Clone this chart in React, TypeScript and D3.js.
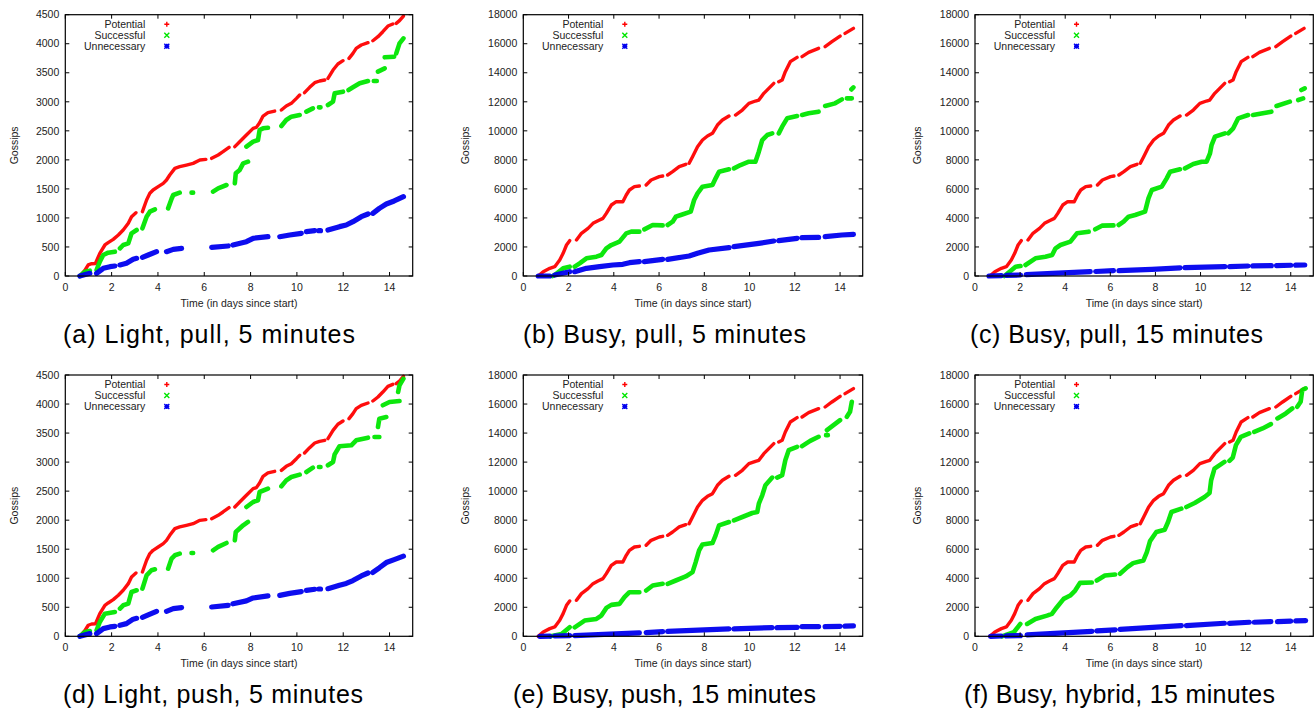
import React from "react";
import * as d3 from "d3";

type P = [number, number] | null;

const xTicks = [0, 2, 4, 6, 8, 10, 12, 14];
const lightYTicks = [0, 500, 1000, 1500, 2000, 2500, 3000, 3500, 4000, 4500];
const busyYTicks = [0, 2000, 4000, 6000, 8000, 10000, 12000, 14000, 16000, 18000];
const seriesNames = ["Potential", "Successful", "Unnecessary"];
const captions = [
  "(a) Light, pull, 5 minutes",
  "(b) Busy, pull, 5 minutes",
  "(c) Busy, pull, 15 minutes",
  "(d) Light, push, 5 minutes",
  "(e) Busy, push, 15 minutes",
  "(f) Busy, hybrid, 15 minutes",
];

const lightPotential: P[] = [
  [0.63, 0], [0.85, 100], [0.99, 190], [1.14, 212], [1.3, 215], [1.49, 390], [1.71, 534], [1.85, 574], [2.07, 631], [2.29, 706], [2.5, 792], [2.72, 907], [2.86, 1022], [3.05, 1090], null,
  [3.33, 1108], [3.51, 1309], [3.65, 1424], [3.79, 1481], [4.01, 1538], [4.23, 1596], [4.37, 1653], [4.51, 1739], [4.73, 1854], [4.94, 1883], [5.23, 1911], [5.52, 1940], [5.81, 1997], [6.07, 2009], null,
  [6.32, 2026], [6.6, 2084], [6.81, 2141], [7.07, 2216], null,
  [7.32, 2227], [7.53, 2313], [7.82, 2428], [8.11, 2543], [8.25, 2560], [8.39, 2640], [8.54, 2755], [8.75, 2813], [9.04, 2841], null,
  [9.33, 2858], [9.54, 2927], [9.76, 2973], [9.98, 3059], [10.12, 3117], null,
  [10.33, 3157], [10.55, 3249], [10.77, 3329], [10.98, 3358], [11.2, 3375], null,
  [11.34, 3404], [11.56, 3547], [11.77, 3651], [11.99, 3708], null,
  [12.25, 3748], [12.42, 3834], [12.56, 3920], [12.78, 3978], [13.07, 4018], null,
  [13.28, 4052], [13.5, 4121], [13.71, 4207], [13.93, 4305], [14.14, 4339], null,
  [14.29, 4351], [14.43, 4397], [14.6, 4477],
];

const aSuccessful: P[] = [
  [0.63, 0], [0.85, 75], [1.06, 92], null,
  [1.35, 103], [1.49, 247], [1.64, 362], [1.85, 402], [2.14, 419], null,
  [2.36, 476], [2.5, 534], [2.72, 562], [2.86, 735], [3.08, 792], null,
  [3.33, 821], [3.51, 1022], [3.65, 1108], [3.87, 1148], null,
  [4.44, 1165], [4.59, 1330], [4.66, 1395], [4.94, 1435], null,
  [5.45, 1435], [5.52, 1435], null,
  [6.38, 1452], [6.6, 1510], [6.96, 1567], null,
  [7.32, 1596], [7.36, 1768], [7.53, 1825], [7.68, 1940], [7.89, 1969], null,
  [7.82, 2227], [8.11, 2313], [8.32, 2342], [8.39, 2514], [8.54, 2543], [8.75, 2554], null,
  [9.33, 2583], [9.54, 2686], [9.76, 2744], [10.12, 2772], null,
  [10.41, 2830], [10.69, 2887], null,
  [10.95, 2904], [11.02, 2904], null,
  [11.34, 2945], [11.56, 3002], [11.63, 3146], [11.99, 3174], null,
  [12.23, 3203], [12.42, 3249], [12.71, 3318], [13.07, 3358], null,
  [13.32, 3358], [13.45, 3358], null,
  [13.5, 3519], [13.79, 3576], null,
  [13.79, 3766], [14.2, 3777], null,
  [14.29, 3834], [14.43, 4006], [14.6, 4093],
];

const aUnnecessary: P[] = [
  [0.63, 0], [1.06, 46], null,
  [1.35, 46], [1.64, 132], [1.93, 161], [2.14, 172], null,
  [2.36, 190], [2.64, 218], [2.93, 287], [3.08, 304], null,
  [3.33, 321], [3.58, 362], [3.94, 419], null,
  [4.37, 419], [4.66, 459], [5.02, 476], null,
  [6.32, 494], [7.03, 517], null,
  [7.24, 534], [7.82, 591], [8.11, 649], [8.75, 677], null,
  [9.26, 677], [9.69, 706], [10.19, 735], null,
  [10.41, 763], [10.77, 781], null,
  [10.95, 781], [11.02, 781], null,
  [11.34, 792], [11.84, 850], [12.13, 878], [12.42, 936], [12.78, 1022], [13.07, 1068], null,
  [13.28, 1079], [13.56, 1165], [13.86, 1240], [14.2, 1292], [14.6, 1366],
];

const dSuccessful: P[] = [
  [0.63, 0], [0.85, 75], [1.06, 92], null,
  [1.35, 103], [1.49, 247], [1.71, 390], [2.14, 419], null,
  [2.36, 476], [2.5, 534], [2.72, 562], [2.86, 764], [3.08, 792], null,
  [3.33, 821], [3.51, 1050], [3.72, 1137], [3.87, 1154], null,
  [4.44, 1165], [4.59, 1338], [4.73, 1395], [4.94, 1424], null,
  [5.45, 1435], [5.52, 1435], null,
  [6.38, 1481], [6.6, 1540], [6.96, 1607], null,
  [7.32, 1653], [7.36, 1797], [7.68, 1911], [7.89, 1969], null,
  [7.82, 2227], [8.11, 2313], [8.32, 2342], [8.39, 2485], [8.75, 2543], null,
  [9.33, 2583], [9.54, 2686], [9.76, 2744], [10.12, 2784], null,
  [10.41, 2830], [10.69, 2904], null,
  [10.95, 2916], [11.02, 2916], null,
  [11.34, 2945], [11.56, 3002], [11.63, 3134], [11.84, 3272], [12.35, 3289], [12.56, 3375], [13.07, 3421], null,
  [13.35, 3433], [13.56, 3433], null,
  [13.5, 3604], [13.56, 3748], [13.86, 3777], null,
  [13.71, 3978], [14.0, 4035], [14.43, 4052], null,
  [14.37, 4207], [14.43, 4322], [14.6, 4437],
];

const dUnnecessary: P[] = [
  [0.63, 0], [1.06, 46], null,
  [1.35, 46], [1.64, 132], [1.93, 161], [2.14, 172], null,
  [2.36, 190], [2.64, 218], [2.93, 295], [3.08, 310], null,
  [3.33, 327], [3.58, 370], [3.94, 430], null,
  [4.37, 430], [4.66, 476], [5.02, 494], null,
  [6.32, 505], [7.03, 534], null,
  [7.24, 560], [7.82, 610], [8.11, 660], [8.75, 695], null,
  [9.26, 705], [9.69, 740], [10.19, 770], null,
  [10.41, 790], [10.77, 810], null,
  [10.95, 815], [11.02, 815], null,
  [11.34, 820], [11.84, 880], [12.13, 910], [12.42, 960], [12.78, 1040], [13.07, 1090], null,
  [13.28, 1100], [13.56, 1180], [13.86, 1270], [14.2, 1320], [14.6, 1380],
];

const busyPotential: P[] = [
  [0.66, 0], [0.88, 298], [1.17, 528], [1.39, 643], [1.61, 1102], [1.76, 1561], [1.91, 2135], [2.05, 2434], null,
  [2.35, 2480], [2.57, 2939], [2.86, 3283], [3.08, 3628], [3.3, 3811], [3.52, 3972], [3.67, 4316], [3.89, 4890], [4.11, 5120], [4.4, 5120], [4.55, 5579], [4.69, 5924], [4.91, 6153], [5.13, 6199], null,
  [5.43, 6268], [5.65, 6612], [6.01, 6842], [6.16, 6888], null,
  [6.38, 6957], [6.6, 7186], [6.89, 7531], [7.18, 7692], null,
  [7.33, 7761], [7.48, 8220], [7.7, 8909], [7.92, 9368], [8.14, 9643], [8.36, 9827], [8.58, 10401], [8.8, 10745], [9.09, 11021], null,
  [9.38, 11090], [9.68, 11434], [9.97, 11893], [10.26, 12054], [10.41, 12123], [10.63, 12582], [10.85, 12927], [11.07, 13271], null,
  [11.29, 13386], [11.44, 13500], [11.58, 14074], [11.8, 14763], [12.1, 15062], null,
  [12.32, 15108], [12.61, 15406], [13.05, 15682], null,
  [13.34, 15796], [13.64, 16141], [14.0, 16531], null,
  [14.22, 16715], [14.59, 17059],
];

const bSuccessful: P[] = [
  [1.3, 0], [1.39, 69], [1.76, 528], [2.05, 643], null,
  [2.27, 643], [2.49, 872], [2.79, 1217], [3.23, 1332], [3.45, 1446], [3.67, 1906], [3.89, 2135], [4.25, 2365], [4.55, 2939], [4.77, 3054], [5.13, 3054], null,
  [5.35, 3214], [5.72, 3513], [6.16, 3490], null,
  [6.38, 3513], [6.6, 3742], [6.74, 4087], [6.96, 4202], [7.4, 4431], [7.55, 5235], [7.7, 5694], [7.92, 6153], [8.36, 6268], [8.5, 6727], [8.65, 7186], [9.09, 7347], null,
  [9.31, 7416], [9.6, 7645], [9.97, 7875], [10.26, 7875], [10.41, 8564], [10.56, 9368], [10.78, 9712], [11.0, 9827], null,
  [11.29, 9827], [11.44, 10286], [11.66, 10860], [12.1, 11021], null,
  [12.32, 11090], [12.61, 11204], [13.05, 11319], null,
  [13.34, 11710], [13.78, 11893], [14.08, 12168], null,
  [14.3, 12237], [14.52, 12237], null,
  [14.5, 12850], [14.59, 12995],
];

const bUnnecessary: P[] = [
  [0.66, 0], [1.17, 0], null,
  [1.39, 69], [2.05, 298], null,
  [2.27, 298], [2.79, 528], [3.37, 643], [3.96, 758], [4.4, 804], [4.69, 918], [5.13, 987], null,
  [5.35, 987], [6.16, 1148], null,
  [6.38, 1148], [7.33, 1378], [7.7, 1561], [8.21, 1791], [9.09, 1952], null,
  [9.31, 2020], [10.41, 2250], [11.07, 2411], null,
  [11.29, 2434], [12.1, 2594], null,
  [12.32, 2640], [13.05, 2663], null,
  [13.34, 2709], [14.08, 2824], [14.59, 2870],
];

const cSuccessful: P[] = [
  [1.3, 0], [1.36, 69], [1.8, 643], [2.02, 690], null,
  [2.24, 758], [2.68, 1217], [3.12, 1332], [3.42, 1446], [3.57, 1906], [3.79, 2135], [4.23, 2365], [4.52, 2939], [5.04, 3054], null,
  [5.33, 3214], [5.63, 3467], [6.14, 3490], null,
  [6.37, 3513], [6.59, 3742], [6.81, 4087], [7.1, 4202], [7.54, 4431], [7.69, 5350], [7.84, 5924], [8.28, 6153], [8.5, 6727], [8.65, 7186], [9.09, 7347], null,
  [9.31, 7416], [9.68, 7715], [10.05, 7875], [10.27, 7875], [10.42, 8449], [10.49, 9023], [10.64, 9597], [11.08, 9827], null,
  [11.23, 9827], [11.45, 10171], [11.67, 10860], [12.11, 11090], null,
  [12.33, 11090], [12.7, 11200], [13.14, 11319], null,
  [13.37, 11710], [13.96, 12008], null,
  [14.33, 12123], [14.55, 12237], null,
  [14.47, 12812], [14.62, 12927],
];

const cUnnecessary: P[] = [
  [0.62, 0], [1.17, 20], null,
  [1.39, 40], [2.02, 69], null,
  [2.27, 90], [4.16, 230], [5.11, 298], null,
  [5.35, 310], [6.14, 367], null,
  [6.38, 375], [7.84, 459], [9.09, 560], null,
  [9.31, 574], [11.08, 643], null,
  [11.29, 650], [12.11, 689], null,
  [12.32, 695], [13.14, 712], null,
  [13.37, 720], [14.0, 740], null,
  [14.22, 745], [14.62, 758],
];

const eSuccessful: P[] = [
  [1.2, 0], [1.32, 46], [1.69, 161], [2.05, 621], null,
  [2.27, 621], [2.71, 1082], [3.23, 1197], [3.45, 1427], [3.67, 1957], [3.89, 2164], [4.25, 2233], [4.47, 2693], [4.69, 3039], [5.13, 3039], null,
  [5.43, 3154], [5.72, 3499], [6.16, 3614], null,
  [6.38, 3614], [6.74, 3844], [7.18, 4120], [7.48, 4420], [7.62, 5110], [7.77, 5916], [7.92, 6330], [8.36, 6422], [8.5, 6952], [8.65, 7642], [9.09, 7873], null,
  [9.31, 7988], [9.68, 8218], [10.12, 8494], [10.34, 8563], [10.41, 9139], [10.56, 9714], [10.7, 10405], [11.0, 10934], null,
  [11.22, 10934], [11.44, 11096], [11.58, 12132], [11.73, 12822], [12.1, 13052], null,
  [12.32, 13098], [12.68, 13467], [13.05, 13743], null,
  [13.38, 13858], [13.46, 13858], null,
  [13.42, 14203], [13.71, 14548], [14.0, 14894], null,
  [14.3, 15124], [14.44, 15469], [14.52, 16159],
];

const eUnnecessary: P[] = [
  [0.73, 0], [1.17, 10], null,
  [1.39, 20], [2.05, 46], null,
  [2.27, 46], [5.13, 230], null,
  [5.43, 253], [6.16, 322], null,
  [6.38, 345], [9.09, 506], null,
  [9.31, 506], [11.0, 598], null,
  [11.22, 598], [12.1, 621], null,
  [12.32, 667], [13.05, 667], null,
  [13.34, 667], [14.0, 690], null,
  [14.22, 700], [14.59, 713],
];

const fSuccessful: P[] = [
  [1.2, 0], [1.28, 46], [1.72, 276], [2.01, 851], null,
  [2.31, 851], [2.68, 1197], [3.19, 1427], [3.41, 1542], [3.63, 2003], [3.93, 2578], [4.22, 2808], [4.44, 3154], [4.66, 3683], [5.18, 3706], null,
  [5.4, 3844], [5.76, 4189], [6.21, 4258], null,
  [6.43, 4304], [6.76, 4765], [7.01, 5041], [7.47, 5225], [7.62, 5800], [7.76, 6560], [8.04, 7182], [8.41, 7343], [8.56, 7873], [8.71, 8563], [9.15, 8793], null,
  [9.37, 8908], [9.74, 9185], [10.18, 9599], [10.4, 9876], [10.47, 10750], [10.62, 11556], [11.06, 12016], null,
  [11.28, 12085], [11.43, 12316], [11.57, 13167], [11.79, 13743], [12.16, 13973], null,
  [12.38, 14088], [12.75, 14318], [13.12, 14617], null,
  [13.41, 15009], [13.78, 15354], [14.07, 15699], null,
  [14.29, 15814], [14.44, 16159], [14.51, 16965], [14.66, 17080],
];

const fUnnecessary: P[] = [
  [0.69, 0], [1.17, 20], null,
  [1.39, 30], [2.01, 46], null,
  [2.31, 92], [5.18, 345], null,
  [5.4, 368], [6.21, 437], null,
  [6.43, 483], [9.15, 736], null,
  [9.37, 736], [11.06, 897], null,
  [11.28, 897], [12.16, 967], null,
  [12.38, 967], [13.12, 1013], null,
  [13.41, 1013], [14.0, 1040], null,
  [14.22, 1060], [14.66, 1082],
];

const COLORS = ["#ff0000", "#00e600", "#0000ee"];
const WIDTHS = [3.4, 4.6, 5.2];
const FONT = "'Liberation Sans', Arial, Helvetica, sans-serif";

interface PanelDef {
  caption: string;
  left: number;
  right: number;
  top: number;
  yMax: number;
  yTicks: number[];
  series: P[][];
  ylabelX: number;
  capX: number;
  capW: number;
}

const ROW_TOPS = [14.7, 375];
const PLOT_H = 261.3;

const panels: PanelDef[] = [
  { caption: captions[0], left: 65.3, right: 412.7, top: ROW_TOPS[0], yMax: 4500, yTicks: lightYTicks, series: [lightPotential, aSuccessful, aUnnecessary], ylabelX: 13.5, capX: 209, capW: 292 },
  { caption: captions[1], left: 523.3, right: 862.7, top: ROW_TOPS[0], yMax: 18000, yTicks: busyYTicks, series: [busyPotential, bSuccessful, bUnnecessary], ylabelX: 465, capX: 664.5, capW: 283 },
  { caption: captions[2], left: 975, right: 1313.3, top: ROW_TOPS[0], yMax: 18000, yTicks: busyYTicks, series: [busyPotential, cSuccessful, cUnnecessary], ylabelX: 916.7, capX: 1116.5, capW: 293 },
  { caption: captions[3], left: 65.3, right: 412.7, top: ROW_TOPS[1], yMax: 4500, yTicks: lightYTicks, series: [lightPotential, dSuccessful, dUnnecessary], ylabelX: 13.5, capX: 213, capW: 300 },
  { caption: captions[4], left: 523.3, right: 862.7, top: ROW_TOPS[1], yMax: 18000, yTicks: busyYTicks, series: [busyPotential, eSuccessful, eUnnecessary], ylabelX: 465, capX: 664.5, capW: 303 },
  { caption: captions[5], left: 975, right: 1313.3, top: ROW_TOPS[1], yMax: 18000, yTicks: busyYTicks, series: [busyPotential, fSuccessful, fUnnecessary], ylabelX: 916.7, capX: 1119.5, capW: 311 },
];

function markerPath(kind: number, cx: number, cy: number, r: number): string {
  const plus = `M${cx - r},${cy}H${cx + r}M${cx},${cy - r}V${cy + r}`;
  const cross = `M${cx - r},${cy - r}L${cx + r},${cy + r}M${cx - r},${cy + r}L${cx + r},${cy - r}`;
  if (kind === 0) return plus;
  if (kind === 1) return cross;
  return plus + cross;
}

function Panel({ p }: { p: PanelDef }) {
  const bottom = p.top + PLOT_H;
  const x = d3.scaleLinear().domain([0, 15]).range([p.left, p.right]);
  const y = d3.scaleLinear().domain([0, p.yMax]).range([bottom, p.top]);
  const line = d3
    .line<P>()
    .defined((d) => d !== null)
    .x((d) => x((d as [number, number])[0]))
    .y((d) => y((d as [number, number])[1]));
  const tl = 4;
  const textColor = "#222";
  return (
    <g>
      {p.series.map((s, i) => (
        <path
          key={i}
          d={line(s) || ""}
          fill="none"
          stroke={COLORS[i]}
          strokeWidth={WIDTHS[i]}
          strokeLinecap="round"
          strokeLinejoin="round"
          opacity={0.95}
        />
      ))}
      <rect x={p.left} y={p.top} width={p.right - p.left} height={PLOT_H} fill="none" stroke="#000" strokeWidth={1.2} />
      {xTicks.map((t) => (
        <g key={"x" + t}>
          <line x1={x(t)} x2={x(t)} y1={bottom} y2={bottom - tl} stroke="#000" />
          <line x1={x(t)} x2={x(t)} y1={p.top} y2={p.top + tl} stroke="#000" />
          <text x={x(t)} y={bottom + 15} textAnchor="middle" fontSize={10.5} fontFamily={FONT} fill={textColor}>
            {t}
          </text>
        </g>
      ))}
      {p.yTicks.map((t) => (
        <g key={"y" + t}>
          <line x1={p.left} x2={p.left + tl} y1={y(t)} y2={y(t)} stroke="#000" />
          <line x1={p.right} x2={p.right - tl} y1={y(t)} y2={y(t)} stroke="#000" />
          <text x={p.left - 6} y={y(t) + 3.7} textAnchor="end" fontSize={10.5} fontFamily={FONT} fill={textColor}>
            {t}
          </text>
        </g>
      ))}
      <text x={(p.left + p.right) / 2} y={bottom + 30.5} textAnchor="middle" fontSize={10.5} fontFamily={FONT} fill={textColor}>
        Time (in days since start)
      </text>
      <text
        transform={`translate(${p.ylabelX},${(p.top + bottom) / 2}) rotate(-90)`}
        textAnchor="middle"
        dominantBaseline="central"
        fontSize={10.5}
        fontFamily={FONT}
        fill={textColor}
      >
        Gossips
      </text>
      {seriesNames.map((n, i) => (
        <g key={n}>
          <text x={p.left + 80} y={p.top + 9.5 + i * 11 + 3.7} textAnchor="end" fontSize={10.5} fontFamily={FONT} fill={textColor}>
            {n}
          </text>
          <path d={markerPath(i, p.left + 101.5, p.top + 9.5 + i * 11, 2.5)} stroke={COLORS[i]} strokeWidth={1.4} fill="none" />
        </g>
      ))}
      <text
        x={p.capX}
        y={bottom + 67}
        textAnchor="middle"
        fontSize={25}
        fontFamily={FONT}
        fill="#000"
        textLength={p.capW}
        lengthAdjust="spacing"
      >
        {p.caption}
      </text>
    </g>
  );
}

export default function App() {
  return (
    <svg width={1314} height={709} style={{ position: "absolute", left: 0, top: 0, background: "#fff" }}>
      <rect width={1314} height={709} fill="#fff" />
      {panels.map((p, i) => (
        <Panel key={i} p={p} />
      ))}
    </svg>
  );
}
